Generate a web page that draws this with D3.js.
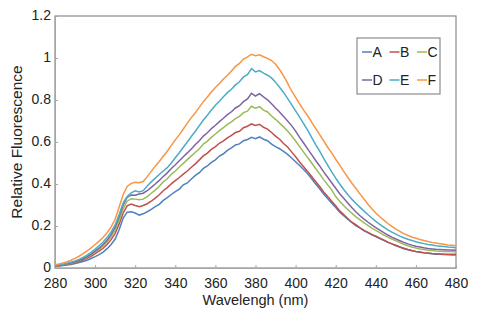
<!DOCTYPE html>
<html>
<head>
<meta charset="utf-8">
<title>Relative Fluorescence</title>
<script src="https://d3js.org/d3.v7.min.js"></script>
<style>
  body { margin: 0; background: #fff; }
  .axis path, .axis line { stroke: #a6a6a6; }
  .line { fill: none; stroke-width: 1.5px; }
</style>
</head>
<body>
<svg id="chart"></svg>
<script>
// wavelength (nm), 2 nm steps
var wavelength = [280,282,284,286,288,290,292,294,296,298,300,302,304,306,308,310,312,314,316,318,
  320,322,324,326,328,330,332,334,336,338,340,342,344,346,348,350,352,354,356,358,
  360,362,364,366,368,370,372,374,376,378,380,382,384,386,388,390,392,394,396,398,
  400,402,404,406,408,410,412,414,416,418,420,422,424,426,428,430,432,434,436,438,
  440,442,444,446,448,450,452,454,456,458,460,462,464,466,468,470,472,474,476,478,480];

var seriesA = [.008,.010,.012,.014,.017,.021,.026,.031,.037,.045,.054,.064,.076,.092,.112,.138,.182,.238,.266,.268,
  .262,.252,.258,.268,.279,.292,.303,.322,.335,.350,.364,.376,.396,.405,.424,.441,.454,.474,.486,.503,
  .515,.533,.544,.560,.572,.586,.591,.606,.612,.622,.616,.624,.613,.606,.590,.578,.568,.555,.541,.524,
  .506,.488,.469,.449,.425,.400,.377,.352,.331,.308,.288,.266,.249,.232,.217,.202,.191,.178,.169,.158,
  .150,.140,.132,.122,.115,.106,.100,.092,.087,.082,.078,.075,.072,.070,.068,.066,.065,.064,.063,.062,.062];

var seriesB = [.009,.011,.014,.017,.021,.026,.031,.038,.046,.056,.068,.080,.094,.112,.135,.165,.210,.262,.296,.305,
  .298,.292,.298,.306,.318,.333,.349,.368,.383,.401,.416,.431,.447,.462,.480,.496,.515,.534,.547,.565,
  .578,.594,.605,.620,.632,.645,.651,.668,.675,.686,.679,.684,.670,.661,.645,.628,.613,.593,.576,.553,
  .530,.505,.482,.460,.436,.412,.388,.362,.340,.318,.296,.272,.254,.236,.218,.206,.192,.180,.170,.160,
  .152,.142,.132,.123,.115,.108,.100,.094,.088,.083,.079,.076,.073,.071,.069,.068,.067,.066,.066,.065,.065];

var seriesC = [.010,.012,.015,.019,.023,.028,.034,.042,.051,.062,.075,.089,.105,.124,.150,.182,.228,.282,.318,.330,
  .328,.325,.328,.340,.356,.371,.389,.410,.425,.446,.462,.481,.498,.516,.534,.551,.568,.590,.604,.622,
  .638,.654,.668,.684,.696,.711,.722,.740,.747,.770,.761,.768,.752,.743,.724,.708,.690,.672,.652,.630,
  .605,.578,.552,.526,.500,.474,.448,.421,.396,.372,.340,.318,.298,.279,.261,.245,.230,.216,.203,.190,
  .179,.168,.157,.147,.138,.129,.121,.113,.106,.100,.095,.091,.088,.085,.083,.081,.080,.079,.078,.078,.077];

var seriesD = [.011,.013,.016,.020,.025,.030,.036,.044,.054,.066,.080,.095,.112,.133,.160,.195,.245,.300,.336,.348,
  .346,.352,.356,.368,.384,.400,.417,.436,.453,.474,.492,.511,.530,.548,.567,.588,.606,.628,.644,.664,
  .680,.697,.713,.730,.744,.762,.773,.792,.805,.832,.819,.830,.815,.801,.782,.762,.743,.722,.700,.678,
  .652,.622,.595,.567,.540,.512,.486,.458,.432,.406,.380,.354,.332,.310,.288,.268,.250,.234,.219,.205,
  .192,.180,.168,.157,.147,.138,.130,.122,.115,.109,.104,.100,.096,.093,.091,.089,.088,.087,.086,.086,.085];

var seriesE = [.012,.015,.018,.023,.028,.034,.041,.050,.061,.075,.090,.106,.124,.146,.172,.205,.255,.310,.340,.358,
  .368,.362,.368,.390,.410,.428,.445,.462,.478,.500,.525,.549,.575,.600,.626,.651,.678,.705,.727,.752,
  .775,.794,.815,.835,.851,.872,.887,.910,.921,.950,.934,.940,.928,.918,.905,.885,.861,.836,.808,.778,
  .748,.718,.688,.656,.622,.588,.556,.522,.490,.458,.428,.400,.374,.350,.328,.308,.290,.272,.255,.238,
  .222,.208,.195,.182,.171,.161,.152,.144,.137,.131,.125,.120,.116,.112,.109,.106,.104,.102,.100,.099,.097];

var seriesF = [.015,.019,.024,.030,.037,.046,.056,.068,.081,.096,.112,.128,.146,.168,.196,.232,.290,.350,.388,.403,
  .408,.406,.412,.435,.460,.485,.507,.532,.556,.584,.610,.635,.662,.690,.716,.739,.766,.792,.814,.838,
  .860,.879,.900,.918,.938,.960,.974,.995,1.005,1.018,1.011,1.015,1.006,.998,.988,.970,.945,.915,.880,.843,
  .812,.782,.752,.725,.695,.665,.635,.605,.575,.548,.518,.490,.460,.432,.405,.380,.354,.330,.305,.282,
  .262,.244,.228,.212,.198,.185,.174,.164,.155,.148,.142,.136,.131,.126,.122,.119,.116,.113,.110,.108,.106];

var seriesNames = ["A", "B", "C", "D", "E", "F"];
var seriesColors = ["#4F81BD", "#C0504D", "#9BBB59", "#8064A2", "#4BACC6", "#F79646"];
var xTicks = [280, 300, 320, 340, 360, 380, 400, 420, 440, 460, 480];
var yTicks = [0, 0.2, 0.4, 0.6, 0.8, 1, 1.2];

var allSeries = [seriesA, seriesB, seriesC, seriesD, seriesE, seriesF];

var font = "'Liberation Sans', Arial, sans-serif";

var W = 477, H = 316;
var margin = { top: 16, right: 21, bottom: 48, left: 55 };

var svg = d3.select("#chart").attr("width", W).attr("height", H);

var x = d3.scaleLinear().domain([280, 480]).range([margin.left, W - margin.right]);
var y = d3.scaleLinear().domain([0, 1.2]).range([H - margin.bottom, margin.top]);

// plot frame
svg.append("rect")
  .attr("x", x(280)).attr("y", y(1.2))
  .attr("width", x(480) - x(280)).attr("height", y(0) - y(1.2))
  .attr("fill", "none").attr("stroke", "#8c8c8c").attr("stroke-width", 1.2);

// axes
var xAxis = svg.append("g").attr("class", "axis")
  .attr("transform", "translate(0," + y(0) + ")")
  .call(d3.axisBottom(x).tickValues(xTicks).tickSizeInner(-3).tickSizeOuter(0).tickFormat(d3.format("d")));
xAxis.selectAll("text").attr("y", 10).attr("dy", "0.71em");

var yAxis = svg.append("g").attr("class", "axis")
  .attr("transform", "translate(" + x(280) + ",0)")
  .call(d3.axisLeft(y).tickValues(yTicks).tickSizeInner(-3).tickSizeOuter(0).tickFormat(function(d) { return d3.format("~g")(d); }));
yAxis.selectAll("text").attr("x", -4).attr("dy", "0.22em");

svg.selectAll(".axis")
  .attr("font-family", font)
  .selectAll("text")
  .style("font-family", font)
  .style("font-size", "14px")
  .attr("fill", "#222");

// lines
var line = d3.line()
  .x(function(d, i) { return x(wavelength[i]); })
  .y(function(d) { return y(d); });

svg.selectAll(".line")
  .data(allSeries)
  .enter()
  .append("path")
  .attr("class", "line")
  .attr("stroke", function(d, i) { return seriesColors[i]; })
  .attr("d", line);

// axis titles
svg.append("text")
  .attr("x", (x(280) + x(480)) / 2).attr("y", 305)
  .attr("text-anchor", "middle")
  .style("font-family", font).style("font-size", "14.5px").attr("fill", "#222")
  .text("Wavelengh (nm)");

svg.append("text")
  .attr("transform", "translate(22," + (y(0) + y(1.2)) / 2 + ") rotate(-90)")
  .attr("text-anchor", "middle")
  .style("font-family", font).style("font-size", "15.5px").attr("fill", "#222")
  .text("Relative Fluorescence");

// legend
var legend = svg.append("g");
legend.append("rect")
  .attr("x", 357).attr("y", 38).attr("width", 83).attr("height", 56)
  .attr("fill", "#fff").attr("stroke", "#8c8c8c").attr("stroke-width", 1.2);

var item = legend.selectAll(".item")
  .data(seriesNames)
  .enter()
  .append("g")
  .attr("class", "item")
  .attr("transform", function(d, i) {
    return "translate(" + (362 + (i % 3) * 27.5) + "," + (52 + Math.floor(i / 3) * 28) + ")";
  });

item.append("line")
  .attr("x1", 0).attr("x2", 10).attr("y1", 0).attr("y2", 0)
  .attr("stroke", function(d, i) { return seriesColors[i]; })
  .attr("stroke-width", 1.5);

item.append("text")
  .attr("x", 10.5).attr("y", 5)
  .style("font-family", font).style("font-size", "14px").attr("fill", "#222")
  .text(function(d) { return d; });
</script>
</body>
</html>
